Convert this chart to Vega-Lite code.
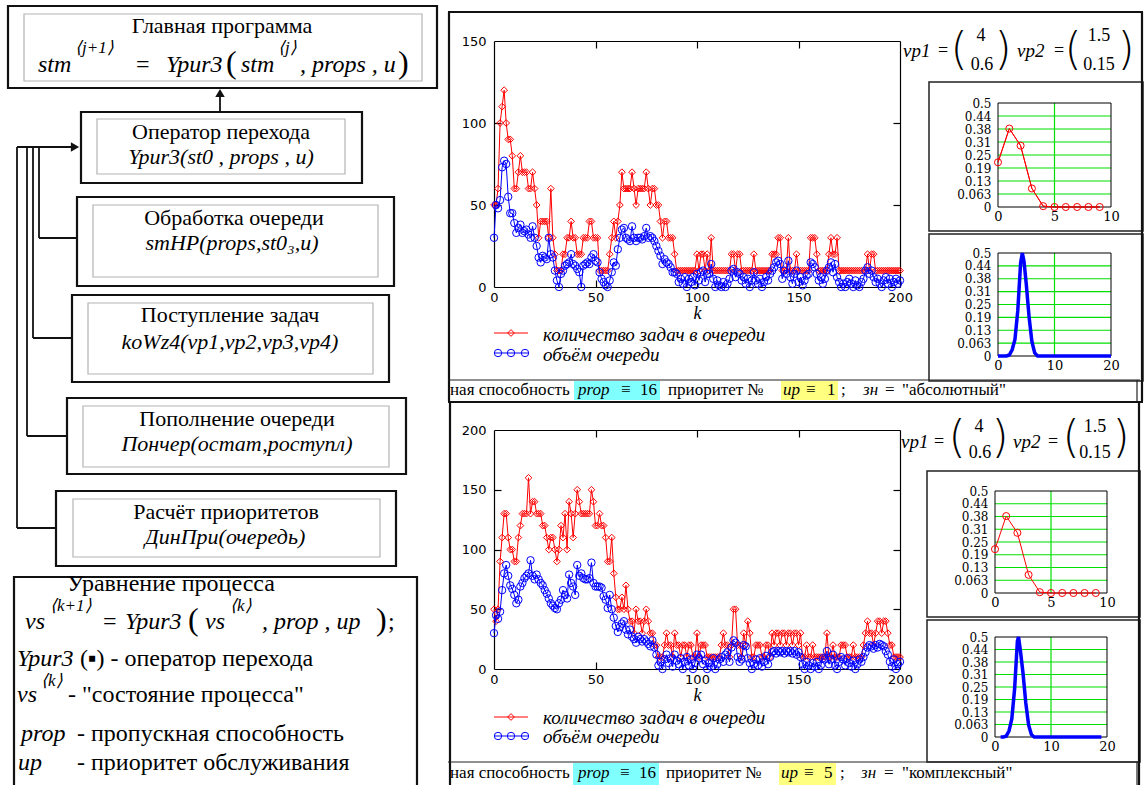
{
"$schema":"https://vega.github.io/schema/vega-lite/v6.json",
"width":1144,"height":785,"autosize":{"type":"none"},"padding":0,"background":"white",
"config":{"view":{"stroke":null},"axis":{"labelColor":"black","domainColor":"black","tickColor":"black","labelOverlap":false,"labelFlush":false,"grid":false,"labelFont":"DejaVu Sans","labelFontSize":13,"domainWidth":1.2,"tickWidth":1.2,"titleColor":"black"}},
"resolve":{"scale":{"x":"independent","y":"independent"},"axis":{"x":"independent","y":"independent"}},
"datasets":{
"d1":[{"k":0,"q":50,"v":30},{"k":1,"q":50,"v":50},{"k":2,"q":60,"v":48},{"k":3,"q":100,"v":53},{"k":4,"q":110,"v":73},{"k":5,"q":120,"v":77},{"k":6,"q":100,"v":75},{"k":7,"q":90,"v":55},{"k":8,"q":90,"v":45},{"k":9,"q":80,"v":45},
{"k":10,"q":60,"v":39},{"k":11,"q":60,"v":33},{"k":12,"q":70,"v":36},{"k":13,"q":80,"v":38},{"k":14,"q":70,"v":33},{"k":15,"q":70,"v":34},{"k":16,"q":70,"v":35},{"k":17,"q":60,"v":32},{"k":18,"q":60,"v":30},{"k":19,"q":70,"v":37},
{"k":20,"q":60,"v":30},{"k":21,"q":50,"v":25},{"k":22,"q":30,"v":18},{"k":23,"q":40,"v":15},{"k":24,"q":40,"v":19},{"k":25,"q":40,"v":18},{"k":26,"q":40,"v":17},{"k":27,"q":30,"v":30},{"k":28,"q":60,"v":20},{"k":29,"q":30,"v":18},
{"k":30,"q":20,"v":10},{"k":31,"q":10,"v":4},{"k":32,"q":10,"v":0},{"k":33,"q":10,"v":8},{"k":34,"q":20,"v":10},{"k":35,"q":20,"v":13},{"k":36,"q":30,"v":14},{"k":37,"q":30,"v":15},{"k":38,"q":40,"v":20},{"k":39,"q":30,"v":14},
{"k":40,"q":30,"v":13},{"k":41,"q":20,"v":11},{"k":42,"q":20,"v":9},{"k":43,"q":20,"v":0},{"k":44,"q":30,"v":13},{"k":45,"q":30,"v":14},{"k":46,"q":30,"v":15},{"k":47,"q":40,"v":14},{"k":48,"q":40,"v":18},{"k":49,"q":30,"v":20},
{"k":50,"q":30,"v":16},{"k":51,"q":30,"v":15},{"k":52,"q":10,"v":9},{"k":53,"q":10,"v":5},{"k":54,"q":10,"v":3},{"k":55,"q":10,"v":1},{"k":56,"q":10,"v":0},{"k":57,"q":20,"v":4},{"k":58,"q":30,"v":9},{"k":59,"q":40,"v":15},
{"k":60,"q":30,"v":13},{"k":61,"q":40,"v":23},{"k":62,"q":50,"v":30},{"k":63,"q":70,"v":35},{"k":64,"q":60,"v":36},{"k":65,"q":60,"v":30},{"k":66,"q":60,"v":29},{"k":67,"q":60,"v":28},{"k":68,"q":70,"v":37},{"k":69,"q":60,"v":30},
{"k":70,"q":50,"v":28},{"k":71,"q":60,"v":30},{"k":72,"q":60,"v":30},{"k":73,"q":60,"v":29},{"k":74,"q":60,"v":31},{"k":75,"q":70,"v":36},{"k":76,"q":60,"v":30},{"k":77,"q":50,"v":31},{"k":78,"q":60,"v":30},{"k":79,"q":60,"v":28},
{"k":80,"q":50,"v":25},{"k":81,"q":50,"v":22},{"k":82,"q":40,"v":19},{"k":83,"q":30,"v":14},{"k":84,"q":40,"v":17},{"k":85,"q":40,"v":15},{"k":86,"q":30,"v":14},{"k":87,"q":30,"v":12},{"k":88,"q":30,"v":9},{"k":89,"q":20,"v":9},
{"k":90,"q":10,"v":8},{"k":91,"q":10,"v":3},{"k":92,"q":10,"v":5},{"k":93,"q":10,"v":2},{"k":94,"q":10,"v":6},{"k":95,"q":10,"v":0},{"k":96,"q":10,"v":5},{"k":97,"q":10,"v":3},{"k":98,"q":10,"v":6},{"k":99,"q":10,"v":1},
{"k":100,"q":20,"v":8},{"k":101,"q":10,"v":4},{"k":102,"q":20,"v":9},{"k":103,"q":20,"v":10},{"k":104,"q":10,"v":3},{"k":105,"q":20,"v":8},{"k":106,"q":10,"v":8},{"k":107,"q":30,"v":14},{"k":108,"q":10,"v":5},{"k":109,"q":10,"v":0},
{"k":110,"q":10,"v":4},{"k":111,"q":10,"v":1},{"k":112,"q":10,"v":0},{"k":113,"q":10,"v":3},{"k":114,"q":10,"v":0},{"k":115,"q":10,"v":2},{"k":116,"q":10,"v":5},{"k":117,"q":20,"v":10},{"k":118,"q":20,"v":11},{"k":119,"q":10,"v":6},
{"k":120,"q":20,"v":9},{"k":121,"q":20,"v":8},{"k":122,"q":10,"v":4},{"k":123,"q":10,"v":6},{"k":124,"q":10,"v":2},{"k":125,"q":10,"v":5},{"k":126,"q":10,"v":0},{"k":127,"q":10,"v":4},{"k":128,"q":20,"v":9},{"k":129,"q":10,"v":4},
{"k":130,"q":10,"v":2},{"k":131,"q":10,"v":5},{"k":132,"q":10,"v":0},{"k":133,"q":10,"v":3},{"k":134,"q":10,"v":6},{"k":135,"q":10,"v":4},{"k":136,"q":10,"v":8},{"k":137,"q":20,"v":10},{"k":138,"q":20,"v":12},{"k":139,"q":20,"v":15},
{"k":140,"q":30,"v":16},{"k":141,"q":30,"v":14},{"k":142,"q":10,"v":5},{"k":143,"q":10,"v":10},{"k":144,"q":10,"v":8},{"k":145,"q":30,"v":16},{"k":146,"q":10,"v":6},{"k":147,"q":10,"v":2},{"k":148,"q":10,"v":8},{"k":149,"q":20,"v":10},
{"k":150,"q":10,"v":3},{"k":151,"q":10,"v":6},{"k":152,"q":10,"v":1},{"k":153,"q":10,"v":4},{"k":154,"q":10,"v":7},{"k":155,"q":10,"v":8},{"k":156,"q":30,"v":15},{"k":157,"q":30,"v":14},{"k":158,"q":30,"v":12},{"k":159,"q":20,"v":8},
{"k":160,"q":10,"v":4},{"k":161,"q":10,"v":6},{"k":162,"q":10,"v":2},{"k":163,"q":10,"v":5},{"k":164,"q":10,"v":10},{"k":165,"q":20,"v":12},{"k":166,"q":30,"v":15},{"k":167,"q":20,"v":9},{"k":168,"q":20,"v":14},{"k":169,"q":30,"v":6},
{"k":170,"q":10,"v":3},{"k":171,"q":10,"v":0},{"k":172,"q":10,"v":2},{"k":173,"q":10,"v":0},{"k":174,"q":10,"v":3},{"k":175,"q":10,"v":5},{"k":176,"q":10,"v":2},{"k":177,"q":10,"v":0},{"k":178,"q":10,"v":4},{"k":179,"q":10,"v":1},
{"k":180,"q":10,"v":0},{"k":181,"q":10,"v":3},{"k":182,"q":10,"v":5},{"k":183,"q":10,"v":10},{"k":184,"q":20,"v":12},{"k":185,"q":10,"v":8},{"k":186,"q":20,"v":10},{"k":187,"q":20,"v":6},{"k":188,"q":10,"v":3},{"k":189,"q":10,"v":5},
{"k":190,"q":10,"v":2},{"k":191,"q":10,"v":0},{"k":192,"q":10,"v":4},{"k":193,"q":10,"v":6},{"k":194,"q":10,"v":2},{"k":195,"q":10,"v":5},{"k":196,"q":10,"v":0},{"k":197,"q":10,"v":3},{"k":198,"q":10,"v":5},{"k":199,"q":10,"v":2},{"k":200,"q":10,"v":4}],
"d2":[{"k":0,"q":50,"v":30},{"k":1,"q":40,"v":45},{"k":2,"q":50,"v":42},{"k":3,"q":90,"v":48},{"k":4,"q":110,"v":66},{"k":5,"q":130,"v":80},{"k":6,"q":130,"v":87},{"k":7,"q":110,"v":78},{"k":8,"q":100,"v":70},{"k":9,"q":100,"v":67},
{"k":10,"q":90,"v":62},{"k":11,"q":90,"v":55},{"k":12,"q":110,"v":58},{"k":13,"q":120,"v":69},{"k":14,"q":130,"v":72},{"k":15,"q":130,"v":76},{"k":16,"q":130,"v":78},{"k":17,"q":160,"v":80},{"k":18,"q":130,"v":91},{"k":19,"q":140,"v":78},
{"k":20,"q":140,"v":75},{"k":21,"q":130,"v":79},{"k":22,"q":130,"v":75},{"k":23,"q":130,"v":72},{"k":24,"q":120,"v":70},{"k":25,"q":120,"v":66},{"k":26,"q":110,"v":63},{"k":27,"q":100,"v":59},{"k":28,"q":110,"v":55},{"k":29,"q":110,"v":53},
{"k":30,"q":100,"v":51},{"k":31,"q":90,"v":50},{"k":32,"q":100,"v":55},{"k":33,"q":120,"v":58},{"k":34,"q":110,"v":66},{"k":35,"q":130,"v":62},{"k":36,"q":100,"v":59},{"k":37,"q":140,"v":79},{"k":38,"q":130,"v":72},{"k":39,"q":110,"v":69},
{"k":40,"q":130,"v":62},{"k":41,"q":150,"v":87},{"k":42,"q":140,"v":78},{"k":43,"q":130,"v":80},{"k":44,"q":130,"v":76},{"k":45,"q":130,"v":75},{"k":46,"q":130,"v":75},{"k":47,"q":130,"v":76},{"k":48,"q":150,"v":89},{"k":49,"q":140,"v":72},
{"k":50,"q":120,"v":69},{"k":51,"q":120,"v":69},{"k":52,"q":130,"v":69},{"k":53,"q":120,"v":68},{"k":54,"q":120,"v":61},{"k":55,"q":110,"v":58},{"k":56,"q":90,"v":51},{"k":57,"q":90,"v":62},{"k":58,"q":110,"v":50},{"k":59,"q":80,"v":43},
{"k":60,"q":60,"v":36},{"k":61,"q":50,"v":31},{"k":62,"q":50,"v":35},{"k":63,"q":60,"v":38},{"k":64,"q":50,"v":40},{"k":65,"q":70,"v":33},{"k":66,"q":50,"v":29},{"k":67,"q":40,"v":33},{"k":68,"q":40,"v":27},{"k":69,"q":30,"v":25},
{"k":70,"q":50,"v":22},{"k":71,"q":40,"v":27},{"k":72,"q":40,"v":25},{"k":73,"q":30,"v":23},{"k":74,"q":40,"v":25},{"k":75,"q":50,"v":23},{"k":76,"q":40,"v":21},{"k":77,"q":30,"v":19},{"k":78,"q":30,"v":24},{"k":79,"q":20,"v":18},
{"k":80,"q":20,"v":12},{"k":81,"q":10,"v":3},{"k":82,"q":10,"v":6},{"k":83,"q":10,"v":0},{"k":84,"q":20,"v":8},{"k":85,"q":30,"v":12},{"k":86,"q":20,"v":5},{"k":87,"q":20,"v":9},{"k":88,"q":10,"v":2},{"k":89,"q":30,"v":12},
{"k":90,"q":20,"v":7},{"k":91,"q":20,"v":4},{"k":92,"q":10,"v":9},{"k":93,"q":20,"v":0},{"k":94,"q":20,"v":6},{"k":95,"q":10,"v":10},{"k":96,"q":20,"v":3},{"k":97,"q":20,"v":8},{"k":98,"q":10,"v":0},{"k":99,"q":10,"v":5},
{"k":100,"q":30,"v":12},{"k":101,"q":10,"v":9},{"k":102,"q":20,"v":12},{"k":103,"q":20,"v":4},{"k":104,"q":20,"v":7},{"k":105,"q":10,"v":0},{"k":106,"q":10,"v":5},{"k":107,"q":10,"v":2},{"k":108,"q":10,"v":9},{"k":109,"q":10,"v":0},
{"k":110,"q":10,"v":4},{"k":111,"q":10,"v":8},{"k":112,"q":20,"v":10},{"k":113,"q":30,"v":6},{"k":114,"q":20,"v":12},{"k":115,"q":20,"v":14},{"k":116,"q":10,"v":6},{"k":117,"q":20,"v":18},{"k":118,"q":50,"v":24},{"k":119,"q":50,"v":22},
{"k":120,"q":20,"v":10},{"k":121,"q":20,"v":6},{"k":122,"q":10,"v":8},{"k":123,"q":30,"v":20},{"k":124,"q":20,"v":19},{"k":125,"q":40,"v":9},{"k":126,"q":30,"v":5},{"k":127,"q":10,"v":0},{"k":128,"q":10,"v":4},{"k":129,"q":20,"v":8},
{"k":130,"q":20,"v":3},{"k":131,"q":20,"v":9},{"k":132,"q":10,"v":2},{"k":133,"q":10,"v":6},{"k":134,"q":20,"v":11},{"k":135,"q":20,"v":4},{"k":136,"q":10,"v":10},{"k":137,"q":30,"v":14},{"k":138,"q":20,"v":15},{"k":139,"q":30,"v":13},
{"k":140,"q":30,"v":15},{"k":141,"q":20,"v":14},{"k":142,"q":30,"v":15},{"k":143,"q":30,"v":13},{"k":144,"q":20,"v":15},{"k":145,"q":30,"v":14},{"k":146,"q":30,"v":15},{"k":147,"q":20,"v":13},{"k":148,"q":30,"v":15},{"k":149,"q":30,"v":12},
{"k":150,"q":20,"v":14},{"k":151,"q":30,"v":10},{"k":152,"q":10,"v":4},{"k":153,"q":10,"v":0},{"k":154,"q":20,"v":6},{"k":155,"q":10,"v":3},{"k":156,"q":10,"v":0},{"k":157,"q":20,"v":5},{"k":158,"q":10,"v":2},{"k":159,"q":10,"v":6},
{"k":160,"q":10,"v":0},{"k":161,"q":10,"v":3},{"k":162,"q":10,"v":9},{"k":163,"q":10,"v":8},{"k":164,"q":30,"v":15},{"k":165,"q":10,"v":4},{"k":166,"q":10,"v":8},{"k":167,"q":20,"v":12},{"k":168,"q":10,"v":3},{"k":169,"q":10,"v":0},
{"k":170,"q":10,"v":6},{"k":171,"q":20,"v":10},{"k":172,"q":20,"v":8},{"k":173,"q":20,"v":3},{"k":174,"q":10,"v":9},{"k":175,"q":10,"v":5},{"k":176,"q":10,"v":2},{"k":177,"q":20,"v":7},{"k":178,"q":10,"v":0},{"k":179,"q":10,"v":4},
{"k":180,"q":10,"v":8},{"k":181,"q":10,"v":6},{"k":182,"q":20,"v":10},{"k":183,"q":30,"v":14},{"k":184,"q":40,"v":18},{"k":185,"q":30,"v":20},{"k":186,"q":30,"v":19},{"k":187,"q":20,"v":17},{"k":188,"q":30,"v":20},{"k":189,"q":40,"v":18},
{"k":190,"q":40,"v":21},{"k":191,"q":30,"v":20},{"k":192,"q":40,"v":19},{"k":193,"q":40,"v":15},{"k":194,"q":30,"v":12},{"k":195,"q":20,"v":6},{"k":196,"q":20,"v":2},{"k":197,"q":10,"v":8},{"k":198,"q":10,"v":0},{"k":199,"q":10,"v":4},{"k":200,"q":10,"v":6}],
"gy":[{"g":0.0625},{"g":0.125},{"g":0.1875},{"g":0.25},{"g":0.3125},{"g":0.375},{"g":0.4375}],
"pa":[{"n":0,"p":0.215},{"n":1,"p":0.377},{"n":2,"p":0.295},{"n":3,"p":0.089},{"n":4,"p":0.004},{"n":5,"p":0},{"n":6,"p":0},{"n":7,"p":0},{"n":8,"p":0},{"n":9,"p":0}],
"pb":[{"n":0,"p":0},{"n":1,"p":0},{"n":1.5,"p":0},{"n":2,"p":0.005},{"n":2.5,"p":0.03},{"n":3,"p":0.08},{"n":3.5,"p":0.22},{"n":4,"p":0.45},{"n":4.3,"p":0.5},{"n":4.6,"p":0.46},{"n":5,"p":0.35},{"n":5.5,"p":0.19},{"n":6,"p":0.07},{"n":6.5,"p":0.015},{"n":7,"p":0},{"n":8,"p":0},{"n":9,"p":0},{"n":10,"p":0},{"n":11,"p":0},{"n":12,"p":0},{"n":13,"p":0},{"n":14,"p":0},{"n":15,"p":0},{"n":16,"p":0},{"n":17,"p":0},{"n":18,"p":0},{"n":19,"p":0},{"n":20,"p":0}],
"pd":[{"n":1,"p":0},{"n":1.5,"p":0},{"n":2,"p":0.004},{"n":2.5,"p":0.03},{"n":3,"p":0.09},{"n":3.5,"p":0.24},{"n":4,"p":0.48},{"n":4.2,"p":0.5},{"n":4.5,"p":0.44},{"n":5,"p":0.32},{"n":5.5,"p":0.17},{"n":6,"p":0.06},{"n":6.5,"p":0.012},{"n":7,"p":0},{"n":8,"p":0},{"n":9,"p":0},{"n":10,"p":0},{"n":11,"p":0},{"n":12,"p":0},{"n":13,"p":0},{"n":14,"p":0},{"n":15,"p":0},{"n":16,"p":0},{"n":17,"p":0},{"n":18,"p":0},{"n":19,"p":0}],
"obox":[{"x":8,"y":6,"x2":437,"y2":88},{"x":81,"y":112,"x2":362,"y2":183},{"x":77,"y":197,"x2":394,"y2":286},{"x":72,"y":295,"x2":389,"y2":382},{"x":67,"y":398,"x2":406,"y2":474},{"x":56,"y":491,"x2":396,"y2":566},{"x":14,"y":577,"x2":417,"y2":795}],
"ibox":[{"x":24,"y":14,"x2":422,"y2":81},{"x":97,"y":119,"x2":345,"y2":174},{"x":93,"y":205,"x2":378,"y2":277},{"x":88,"y":303,"x2":373,"y2":374},{"x":83,"y":406,"x2":389,"y2":467},{"x":73,"y":499,"x2":380,"y2":557}],
"sbox":[{"x":929,"y":82,"x2":1143,"y2":231},{"x":929,"y":234,"x2":1143,"y2":381},{"x":927,"y":471,"x2":1140,"y2":617},{"x":927,"y":620,"x2":1140,"y2":762}],
"ln2":[{"x":448,"y":12,"x2":1143,"y2":12},{"x":449,"y":12,"x2":449,"y2":401},{"x":448,"y":402,"x2":1143,"y2":402},{"x":450,"y":402,"x2":450,"y2":790},{"x":1142,"y":12,"x2":1142,"y2":401},{"x":1139,"y":402,"x2":1139,"y2":790}],
"ln1":[{"x":448,"y":380,"x2":1140,"y2":380},{"x":1137,"y":380,"x2":1137,"y2":401},{"x":448,"y":762,"x2":1139,"y2":762},{"x":1137,"y":762,"x2":1137,"y2":790}],
"lnf":[{"x":220,"y":112,"x2":220,"y2":95},{"x":17,"y":147,"x2":72,"y2":147},{"x":17,"y":147,"x2":17,"y2":528},{"x":27,"y":147,"x2":27,"y2":436},{"x":33,"y":147,"x2":33,"y2":338},{"x":39,"y":147,"x2":39,"y2":238},{"x":39,"y":238,"x2":77,"y2":238},{"x":33,"y":338,"x2":72,"y2":338},{"x":27,"y":436,"x2":67,"y2":436},{"x":17,"y":528,"x2":56,"y2":528}],
"arU":[{"x":220,"y":93}],
"arR":[{"x":75,"y":147}],
"hlC":[{"x":574,"y":381,"x2":660,"y2":400},{"x":573,"y":763,"x2":659,"y2":785}],
"hlY":[{"x":781,"y":381,"x2":838,"y2":400},{"x":779,"y":763,"x2":836,"y2":785}],
"tTitle":[{"x":222,"y":26,"t":"Главная программа"},{"x":221,"y":132,"t":"Оператор перехода"},{"x":234,"y":218,"t":"Обработка очереди"},{"x":230,"y":315,"t":"Поступление задач"},{"x":237,"y":419,"t":"Пополнение очереди"},{"x":226,"y":512,"t":"Расчёт  приоритетов"}],
"tForm":[{"x":221,"y":157,"t":"Ypur3(st0 , props , u)"},{"x":232,"y":243,"t":"smHP(props,st0₃,u)"},{"x":230,"y":342,"t":"koWz4(vp1,vp2,vp3,vp4)"},{"x":237,"y":444,"t":"Пончер(остат,роступл)"},{"x":225,"y":537,"t":"ДинПри(очередь)"}],
"tBigIt":[{"x":38,"y":65,"t":"stm"},{"x":166,"y":65,"t":"Ypur3"},{"x":241,"y":65,"t":"stm"},{"x":300,"y":65,"t":", props , u"},{"x":25,"y":622,"t":"vs"},{"x":125,"y":622,"t":"Ypur3"},{"x":205,"y":622,"t":"vs"},{"x":262,"y":622,"t":",  prop ,  up"},{"x":17,"y":659,"t":"Ypur3"},{"x":17,"y":695,"t":"vs"},{"x":21,"y":734,"t":"prop"},{"x":18,"y":763,"t":"up"}],
"tBig":[{"x":136,"y":65,"t":"="},{"x":103,"y":622,"t":"="},{"x":388,"y":622,"t":";"},{"x":67,"y":584,"t":"Уравнение процесса"},{"x":80,"y":659,"t":"(▪) - оператор  перехода"},{"x":68,"y":695,"t":"- \"состояние  процесса\""},{"x":77,"y":734,"t":"- пропускная способность"},{"x":77,"y":763,"t":"- приоритет обслуживания"}],
"tSup":[{"x":75,"y":48,"t":"⟨j+1⟩"},{"x":278,"y":48,"t":"⟨j⟩"},{"x":50,"y":606,"t":"⟨k+1⟩"},{"x":230,"y":606,"t":"⟨k⟩"},{"x":41,"y":681,"t":"⟨k⟩"}],
"tParen":[{"x":226,"y":63,"t":"("},{"x":398,"y":63,"t":")"},{"x":188,"y":620,"t":"("},{"x":376,"y":620,"t":")"}],
"tStrip":[{"x":450,"y":390,"t":"ная способность"},{"x":621,"y":390,"t":"≡"},{"x":640,"y":390,"t":"16"},{"x":668,"y":390,"t":"приоритет №"},{"x":806,"y":390,"t":"≡"},{"x":827,"y":390,"t":"1"},{"x":841,"y":390,"t":";"},{"x":885,"y":390,"t":"="},{"x":902,"y":390,"t":"\"абсолютный\""},{"x":450,"y":773,"t":"ная способность"},{"x":620,"y":773,"t":"≡"},{"x":639,"y":773,"t":"16"},{"x":666,"y":773,"t":"приоритет №"},{"x":804,"y":773,"t":"≡"},{"x":824,"y":773,"t":"5"},{"x":840,"y":773,"t":";"},{"x":884,"y":773,"t":"="},{"x":902,"y":773,"t":"\"комплексный\""}],
"tStripIt":[{"x":578,"y":390,"t":"prop"},{"x":783,"y":390,"t":"up"},{"x":863,"y":390,"t":"зн"},{"x":578,"y":773,"t":"prop"},{"x":781,"y":773,"t":"up"},{"x":861,"y":773,"t":"зн"}],
"tVp":[{"x":943,"y":51,"t":"="},{"x":981,"y":36,"t":"4"},{"x":982,"y":65,"t":"0.6"},{"x":1059,"y":51,"t":"="},{"x":1099,"y":36,"t":"1.5"},{"x":1099,"y":65,"t":"0.15"},{"x":939,"y":442,"t":"="},{"x":979,"y":427,"t":"4"},{"x":980,"y":453,"t":"0.6"},{"x":1053,"y":442,"t":"="},{"x":1095,"y":427,"t":"1.5"},{"x":1095,"y":453,"t":"0.15"}],
"tVpIt":[{"x":903,"y":51,"t":"vp1"},{"x":1017,"y":51,"t":"vp2"},{"x":901,"y":442,"t":"vp1"},{"x":1013,"y":442,"t":"vp2"}],
"tMat":[{"x":959,"y":51,"t":"("},{"x":1003,"y":51,"t":")"},{"x":1073,"y":51,"t":"("},{"x":1126,"y":51,"t":")"},{"x":957,"y":439,"t":"("},{"x":1000,"y":439,"t":")"},{"x":1071,"y":439,"t":"("},{"x":1121,"y":439,"t":")"}],
"lgR":[{"x":494,"y":333,"x2":528,"y2":333},{"x":494,"y":717,"x2":528,"y2":717}],
"lgB":[{"x":494,"y":353,"x2":528,"y2":353},{"x":494,"y":736,"x2":528,"y2":736}],
"lgRp":[{"x":511,"y":333},{"x":511,"y":717}],
"lgBp":[{"x":498,"y":353},{"x":511,"y":353},{"x":525,"y":353},{"x":498,"y":736},{"x":511,"y":736},{"x":525,"y":736}],
"tLeg":[{"x":543,"y":335,"t":"количество задач в очереди"},{"x":543,"y":355,"t":"объём очереди"},{"x":543,"y":718,"t":"количество задач в очереди"},{"x":543,"y":737,"t":"объём очереди"}]
},
"layer":[
{"encoding":{"x":{"field":"x","type":"quantitative","scale":{"domain":[0,1144],"range":[0,1144],"nice":false,"zero":false},"axis":null},"y":{"field":"y","type":"quantitative","scale":{"domain":[0,785],"range":[0,785],"nice":false,"zero":false},"axis":null}},
 "layer":[
  {"data":{"name":"hlC"},"mark":{"type":"rect","color":"#80ffff"},"encoding":{"x2":{"field":"x2"},"y2":{"field":"y2"}}},
  {"data":{"name":"hlY"},"mark":{"type":"rect","color":"#ffff80"},"encoding":{"x2":{"field":"x2"},"y2":{"field":"y2"}}},
  {"data":{"name":"ibox"},"mark":{"type":"rect","filled":false,"color":"#b4b4b4","strokeWidth":1.2},"encoding":{"x2":{"field":"x2"},"y2":{"field":"y2"}}},
  {"data":{"name":"obox"},"mark":{"type":"rect","filled":false,"color":"#111111","strokeWidth":2.2},"encoding":{"x2":{"field":"x2"},"y2":{"field":"y2"}}},
  {"data":{"name":"sbox"},"mark":{"type":"rect","filled":false,"color":"#222222","strokeWidth":1.5},"encoding":{"x2":{"field":"x2"},"y2":{"field":"y2"}}},
  {"data":{"name":"ln2"},"mark":{"type":"rule","color":"#111111","strokeWidth":2.2},"encoding":{"x2":{"field":"x2"},"y2":{"field":"y2"}}},
  {"data":{"name":"ln1"},"mark":{"type":"rule","color":"#222222","strokeWidth":1.2},"encoding":{"x2":{"field":"x2"},"y2":{"field":"y2"}}},
  {"data":{"name":"lnf"},"mark":{"type":"rule","color":"#111111","strokeWidth":1.8},"encoding":{"x2":{"field":"x2"},"y2":{"field":"y2"}}},
  {"data":{"name":"arU"},"mark":{"type":"point","shape":"triangle-up","filled":true,"color":"#111111","size":90,"opacity":1},"encoding":{}},
  {"data":{"name":"arR"},"mark":{"type":"point","shape":"triangle-right","filled":true,"color":"#111111","size":90,"opacity":1},"encoding":{}},
  {"data":{"name":"tTitle"},"mark":{"type":"text","font":"Liberation Serif","fontSize":22,"align":"center","baseline":"middle","color":"black"},"encoding":{"text":{"field":"t"}}},
  {"data":{"name":"tForm"},"mark":{"type":"text","font":"Liberation Serif","fontStyle":"italic","fontSize":22,"align":"center","baseline":"middle","color":"black"},"encoding":{"text":{"field":"t"}}},
  {"data":{"name":"tBigIt"},"mark":{"type":"text","font":"Liberation Serif","fontStyle":"italic","fontSize":24,"align":"left","baseline":"middle","color":"black"},"encoding":{"text":{"field":"t"}}},
  {"data":{"name":"tBig"},"mark":{"type":"text","font":"Liberation Serif","fontSize":24,"align":"left","baseline":"middle","color":"black"},"encoding":{"text":{"field":"t"}}},
  {"data":{"name":"tSup"},"mark":{"type":"text","font":"Liberation Serif","fontStyle":"italic","fontSize":17,"align":"left","baseline":"middle","color":"black"},"encoding":{"text":{"field":"t"}}},
  {"data":{"name":"tParen"},"mark":{"type":"text","font":"Liberation Serif","fontSize":32,"align":"left","baseline":"middle","color":"black"},"encoding":{"text":{"field":"t"}}},
  {"data":{"name":"tStrip"},"mark":{"type":"text","font":"Liberation Serif","fontSize":17,"align":"left","baseline":"middle","color":"black"},"encoding":{"text":{"field":"t"}}},
  {"data":{"name":"tStripIt"},"mark":{"type":"text","font":"Liberation Serif","fontStyle":"italic","fontSize":17,"align":"left","baseline":"middle","color":"black"},"encoding":{"text":{"field":"t"}}},
  {"data":{"name":"tVp"},"mark":{"type":"text","font":"Liberation Serif","fontSize":18,"align":"center","baseline":"middle","color":"black"},"encoding":{"text":{"field":"t"}}},
  {"data":{"name":"tVpIt"},"mark":{"type":"text","font":"Liberation Serif","fontStyle":"italic","fontSize":19,"align":"left","baseline":"middle","color":"black"},"encoding":{"text":{"field":"t"}}},
  {"data":{"name":"tMat"},"mark":{"type":"text","font":"DejaVu Sans","fontWeight":200,"fontSize":44,"align":"center","baseline":"middle","color":"black"},"encoding":{"text":{"field":"t"}}},
  {"data":{"name":"lgR"},"mark":{"type":"rule","color":"#ff0000","strokeWidth":1},"encoding":{"x2":{"field":"x2"},"y2":{"field":"y2"}}},
  {"data":{"name":"lgB"},"mark":{"type":"rule","color":"#0000ff","strokeWidth":1},"encoding":{"x2":{"field":"x2"},"y2":{"field":"y2"}}},
  {"data":{"name":"lgRp"},"mark":{"type":"point","shape":"diamond","filled":false,"color":"#ff0000","size":45,"strokeWidth":1,"opacity":1},"encoding":{}},
  {"data":{"name":"lgBp"},"mark":{"type":"point","shape":"circle","filled":false,"color":"#0000ff","size":55,"strokeWidth":1,"opacity":1},"encoding":{}},
  {"data":{"name":"tLeg"},"mark":{"type":"text","font":"Liberation Serif","fontStyle":"italic","fontSize":19,"align":"left","baseline":"middle","color":"black"},"encoding":{"text":{"field":"t"}}}
 ]},
{"data":{"name":"d1"},
 "layer":[
  {"mark":{"type":"line","color":"#ff0000","strokeWidth":1},
   "encoding":{"x":{"field":"k","type":"quantitative","scale":{"domain":[0,200],"range":[494,900],"nice":false,"zero":false},"axis":{"orient":"bottom","offset":-498,"values":[0,50,100,150,200],"ticks":false,"labelPadding":4,"title":"k","titleFont":"Liberation Serif","titleFontStyle":"italic","titleFontWeight":"normal","titleFontSize":18,"titlePadding":0}},
    "y":{"field":"q","type":"quantitative","scale":{"domain":[0,150],"range":[287,41],"nice":false,"zero":false},"axis":{"orient":"left","offset":-494,"values":[0,50,100,150],"ticks":false,"labelPadding":8,"title":null}}}},
  {"mark":{"type":"point","shape":"diamond","color":"#ff0000","filled":false,"size":45,"strokeWidth":1,"opacity":1},
   "encoding":{"x":{"field":"k","type":"quantitative","scale":{"domain":[0,200],"range":[494,900],"nice":false,"zero":false},"axis":{"orient":"top","offset":-41,"values":[50,100,150],"labels":false,"tickSize":-7,"title":null}},
    "y":{"field":"q","type":"quantitative","scale":{"domain":[0,150],"range":[287,41],"nice":false,"zero":false},"axis":{"orient":"right","offset":-244,"values":[50,100],"labels":false,"tickSize":-7,"title":null}}}},
  {"mark":{"type":"line","color":"#0000ff","strokeWidth":1},
   "encoding":{"x":{"field":"k","type":"quantitative","scale":{"domain":[0,200],"range":[494,900],"nice":false,"zero":false},"axis":{"orient":"bottom","offset":-498,"values":[50,100,150],"labels":false,"domain":false,"tickSize":-7,"title":null}},
    "y":{"field":"v","type":"quantitative","scale":{"domain":[0,150],"range":[287,41],"nice":false,"zero":false},"axis":{"orient":"left","offset":-494,"values":[50,100],"labels":false,"domain":false,"tickSize":-7,"title":null}}}},
  {"mark":{"type":"point","shape":"circle","color":"#0000ff","filled":false,"size":55,"strokeWidth":1,"opacity":1},
   "encoding":{"x":{"field":"k","type":"quantitative","scale":{"domain":[0,200],"range":[494,900],"nice":false,"zero":false},"axis":null},
    "y":{"field":"v","type":"quantitative","scale":{"domain":[0,150],"range":[287,41],"nice":false,"zero":false},"axis":null}}}
 ]},
{"data":{"name":"d2"},
 "layer":[
  {"mark":{"type":"line","color":"#ff0000","strokeWidth":1},
   "encoding":{"x":{"field":"k","type":"quantitative","scale":{"domain":[0,200],"range":[494,900],"nice":false,"zero":false},"axis":{"orient":"bottom","offset":-116,"values":[0,50,100,150,200],"ticks":false,"labelPadding":4,"title":"k","titleFont":"Liberation Serif","titleFontStyle":"italic","titleFontWeight":"normal","titleFontSize":18,"titlePadding":0}},
    "y":{"field":"q","type":"quantitative","scale":{"domain":[0,200],"range":[669,430],"nice":false,"zero":false},"axis":{"orient":"left","offset":-494,"values":[0,50,100,150,200],"ticks":false,"labelPadding":8,"title":null}}}},
  {"mark":{"type":"point","shape":"diamond","color":"#ff0000","filled":false,"size":45,"strokeWidth":1,"opacity":1},
   "encoding":{"x":{"field":"k","type":"quantitative","scale":{"domain":[0,200],"range":[494,900],"nice":false,"zero":false},"axis":{"orient":"top","offset":-430,"values":[50,100,150],"labels":false,"tickSize":-7,"title":null}},
    "y":{"field":"q","type":"quantitative","scale":{"domain":[0,200],"range":[669,430],"nice":false,"zero":false},"axis":{"orient":"right","offset":-244,"values":[50,100,150],"labels":false,"tickSize":-7,"title":null}}}},
  {"mark":{"type":"line","color":"#0000ff","strokeWidth":1},
   "encoding":{"x":{"field":"k","type":"quantitative","scale":{"domain":[0,200],"range":[494,900],"nice":false,"zero":false},"axis":{"orient":"bottom","offset":-116,"values":[50,100,150],"labels":false,"domain":false,"tickSize":-7,"title":null}},
    "y":{"field":"v","type":"quantitative","scale":{"domain":[0,200],"range":[669,430],"nice":false,"zero":false},"axis":{"orient":"left","offset":-494,"values":[50,100,150],"labels":false,"domain":false,"tickSize":-7,"title":null}}}},
  {"mark":{"type":"point","shape":"circle","color":"#0000ff","filled":false,"size":55,"strokeWidth":1,"opacity":1},
   "encoding":{"x":{"field":"k","type":"quantitative","scale":{"domain":[0,200],"range":[494,900],"nice":false,"zero":false},"axis":null},
    "y":{"field":"v","type":"quantitative","scale":{"domain":[0,200],"range":[669,430],"nice":false,"zero":false},"axis":null}}}
 ]},
{"resolve":{"axis":{"x":"independent","y":"independent"}},
 "layer":[
  {"data":{"name":"pa"},"mark":{"type":"line","color":"#ff0000","strokeWidth":1},"encoding":{"x":{"field":"n","type":"quantitative","scale":{"domain":[0,10],"range":[998,1111],"nice":false,"zero":false},"axis":{"orient":"bottom","offset":-578,"values":[0,5,10],"ticks":false,"domain":false,"labelPadding":3,"labelFont":"DejaVu Serif","labelFontSize":13,"title":null}},"y":{"field":"p","type":"quantitative","scale":{"domain":[0,0.5],"range":[207,103],"nice":false,"zero":false},"axis":{"orient":"left","offset":-998,"values":[0,0.0625,0.125,0.1875,0.25,0.3125,0.375,0.4375,0.5],"format":".2","ticks":false,"domain":false,"labelPadding":7,"labelFont":"DejaVu Serif","labelFontSize":12,"title":null}}}},
  {"data":{"name":"gy"},"mark":{"type":"rule","color":"#00e000","strokeWidth":1.2},"encoding":{"y":{"field":"g","type":"quantitative","scale":{"domain":[0,0.5],"range":[207,103],"nice":false,"zero":false},"axis":null},"x":{"datum":0,"type":"quantitative","scale":{"domain":[0,10],"range":[998,1111],"nice":false,"zero":false},"axis":null},"x2":{"datum":10}}},
  {"data":{"values":[{}]},"mark":{"type":"rule","color":"#00e000","strokeWidth":1.2},"encoding":{"x":{"datum":5,"type":"quantitative","scale":{"domain":[0,10],"range":[998,1111],"nice":false,"zero":false},"axis":null},"y":{"datum":0,"type":"quantitative","scale":{"domain":[0,0.5],"range":[207,103],"nice":false,"zero":false},"axis":null},"y2":{"datum":0.5}}},
  {"data":{"values":[{}]},"mark":{"type":"rect","filled":false,"color":"black","strokeWidth":1},"encoding":{"x":{"datum":0,"type":"quantitative","scale":{"domain":[0,10],"range":[998,1111],"nice":false,"zero":false},"axis":null},"x2":{"datum":10},"y":{"datum":0,"type":"quantitative","scale":{"domain":[0,0.5],"range":[207,103],"nice":false,"zero":false},"axis":null},"y2":{"datum":0.5}}},
  {"data":{"name":"pa"},"mark":{"type":"line","color":"#ff0000","strokeWidth":1},"encoding":{"x":{"field":"n","type":"quantitative","scale":{"domain":[0,10],"range":[998,1111],"nice":false,"zero":false},"axis":null},"y":{"field":"p","type":"quantitative","scale":{"domain":[0,0.5],"range":[207,103],"nice":false,"zero":false},"axis":null}}},
  {"data":{"name":"pa"},"mark":{"type":"point","shape":"circle","color":"#ff0000","filled":false,"size":50,"strokeWidth":1,"opacity":1},"encoding":{"x":{"field":"n","type":"quantitative","scale":{"domain":[0,10],"range":[998,1111],"nice":false,"zero":false},"axis":null},"y":{"field":"p","type":"quantitative","scale":{"domain":[0,0.5],"range":[207,103],"nice":false,"zero":false},"axis":null}}}
 ]},
{"resolve":{"axis":{"x":"independent","y":"independent"}},
 "layer":[
  {"data":{"name":"gy"},"mark":{"type":"rule","color":"#00e000","strokeWidth":1.2},"encoding":{"y":{"field":"g","type":"quantitative","scale":{"domain":[0,0.5],"range":[356,253],"nice":false,"zero":false},"axis":null},"x":{"datum":0,"type":"quantitative","scale":{"domain":[0,20],"range":[998,1111],"nice":false,"zero":false},"axis":null},"x2":{"datum":20}}},
  {"data":{"values":[{}]},"mark":{"type":"rule","color":"#00e000","strokeWidth":1.2},"encoding":{"x":{"datum":10,"type":"quantitative","scale":{"domain":[0,20],"range":[998,1111],"nice":false,"zero":false},"axis":null},"y":{"datum":0,"type":"quantitative","scale":{"domain":[0,0.5],"range":[356,253],"nice":false,"zero":false},"axis":null},"y2":{"datum":0.5}}},
  {"data":{"values":[{}]},"mark":{"type":"rect","filled":false,"color":"black","strokeWidth":1},"encoding":{"x":{"datum":0,"type":"quantitative","scale":{"domain":[0,20],"range":[998,1111],"nice":false,"zero":false},"axis":null},"x2":{"datum":20},"y":{"datum":0,"type":"quantitative","scale":{"domain":[0,0.5],"range":[356,253],"nice":false,"zero":false},"axis":null},"y2":{"datum":0.5}}},
  {"data":{"name":"pb"},"mark":{"type":"line","color":"#0000ff","strokeWidth":3.5},"encoding":{"x":{"field":"n","type":"quantitative","scale":{"domain":[0,20],"range":[998,1111],"nice":false,"zero":false},"axis":{"orient":"bottom","offset":-429,"values":[0,10,20],"ticks":false,"domain":false,"labelPadding":3,"labelFont":"DejaVu Serif","labelFontSize":13,"title":null}},"y":{"field":"p","type":"quantitative","scale":{"domain":[0,0.5],"range":[356,253],"nice":false,"zero":false},"axis":{"orient":"left","offset":-998,"values":[0,0.0625,0.125,0.1875,0.25,0.3125,0.375,0.4375,0.5],"format":".2","ticks":false,"domain":false,"labelPadding":7,"labelFont":"DejaVu Serif","labelFontSize":12,"title":null}}}}
 ]},
{"resolve":{"axis":{"x":"independent","y":"independent"}},
 "layer":[
  {"data":{"name":"gy"},"mark":{"type":"rule","color":"#00e000","strokeWidth":1.2},"encoding":{"y":{"field":"g","type":"quantitative","scale":{"domain":[0,0.5],"range":[593,491],"nice":false,"zero":false},"axis":null},"x":{"datum":0,"type":"quantitative","scale":{"domain":[0,10],"range":[995,1107],"nice":false,"zero":false},"axis":null},"x2":{"datum":10}}},
  {"data":{"values":[{}]},"mark":{"type":"rule","color":"#00e000","strokeWidth":1.2},"encoding":{"x":{"datum":5,"type":"quantitative","scale":{"domain":[0,10],"range":[995,1107],"nice":false,"zero":false},"axis":null},"y":{"datum":0,"type":"quantitative","scale":{"domain":[0,0.5],"range":[593,491],"nice":false,"zero":false},"axis":null},"y2":{"datum":0.5}}},
  {"data":{"values":[{}]},"mark":{"type":"rect","filled":false,"color":"black","strokeWidth":1},"encoding":{"x":{"datum":0,"type":"quantitative","scale":{"domain":[0,10],"range":[995,1107],"nice":false,"zero":false},"axis":null},"x2":{"datum":10},"y":{"datum":0,"type":"quantitative","scale":{"domain":[0,0.5],"range":[593,491],"nice":false,"zero":false},"axis":null},"y2":{"datum":0.5}}},
  {"data":{"name":"pa"},"mark":{"type":"line","color":"#ff0000","strokeWidth":1},"encoding":{"x":{"field":"n","type":"quantitative","scale":{"domain":[0,10],"range":[995,1107],"nice":false,"zero":false},"axis":{"orient":"bottom","offset":-192,"values":[0,5,10],"ticks":false,"domain":false,"labelPadding":3,"labelFont":"DejaVu Serif","labelFontSize":13,"title":null}},"y":{"field":"p","type":"quantitative","scale":{"domain":[0,0.5],"range":[593,491],"nice":false,"zero":false},"axis":{"orient":"left","offset":-995,"values":[0,0.0625,0.125,0.1875,0.25,0.3125,0.375,0.4375,0.5],"format":".2","ticks":false,"domain":false,"labelPadding":7,"labelFont":"DejaVu Serif","labelFontSize":12,"title":null}}}},
  {"data":{"name":"pa"},"mark":{"type":"point","shape":"circle","color":"#ff0000","filled":false,"size":50,"strokeWidth":1,"opacity":1},"encoding":{"x":{"field":"n","type":"quantitative","scale":{"domain":[0,10],"range":[995,1107],"nice":false,"zero":false},"axis":null},"y":{"field":"p","type":"quantitative","scale":{"domain":[0,0.5],"range":[593,491],"nice":false,"zero":false},"axis":null}}}
 ]},
{"resolve":{"axis":{"x":"independent","y":"independent"}},
 "layer":[
  {"data":{"name":"gy"},"mark":{"type":"rule","color":"#00e000","strokeWidth":1.2},"encoding":{"y":{"field":"g","type":"quantitative","scale":{"domain":[0,0.5],"range":[737,637],"nice":false,"zero":false},"axis":null},"x":{"datum":0,"type":"quantitative","scale":{"domain":[0,20],"range":[995,1107],"nice":false,"zero":false},"axis":null},"x2":{"datum":20}}},
  {"data":{"values":[{}]},"mark":{"type":"rule","color":"#00e000","strokeWidth":1.2},"encoding":{"x":{"datum":10,"type":"quantitative","scale":{"domain":[0,20],"range":[995,1107],"nice":false,"zero":false},"axis":null},"y":{"datum":0,"type":"quantitative","scale":{"domain":[0,0.5],"range":[737,637],"nice":false,"zero":false},"axis":null},"y2":{"datum":0.5}}},
  {"data":{"values":[{}]},"mark":{"type":"rect","filled":false,"color":"black","strokeWidth":1},"encoding":{"x":{"datum":0,"type":"quantitative","scale":{"domain":[0,20],"range":[995,1107],"nice":false,"zero":false},"axis":null},"x2":{"datum":20},"y":{"datum":0,"type":"quantitative","scale":{"domain":[0,0.5],"range":[737,637],"nice":false,"zero":false},"axis":null},"y2":{"datum":0.5}}},
  {"data":{"name":"pd"},"mark":{"type":"line","color":"#0000ff","strokeWidth":3.5},"encoding":{"x":{"field":"n","type":"quantitative","scale":{"domain":[0,20],"range":[995,1107],"nice":false,"zero":false},"axis":{"orient":"bottom","offset":-48,"values":[0,10,20],"ticks":false,"domain":false,"labelPadding":3,"labelFont":"DejaVu Serif","labelFontSize":13,"title":null}},"y":{"field":"p","type":"quantitative","scale":{"domain":[0,0.5],"range":[737,637],"nice":false,"zero":false},"axis":{"orient":"left","offset":-995,"values":[0,0.0625,0.125,0.1875,0.25,0.3125,0.375,0.4375,0.5],"format":".2","ticks":false,"domain":false,"labelPadding":7,"labelFont":"DejaVu Serif","labelFontSize":12,"title":null}}}}
 ]}
]
}
